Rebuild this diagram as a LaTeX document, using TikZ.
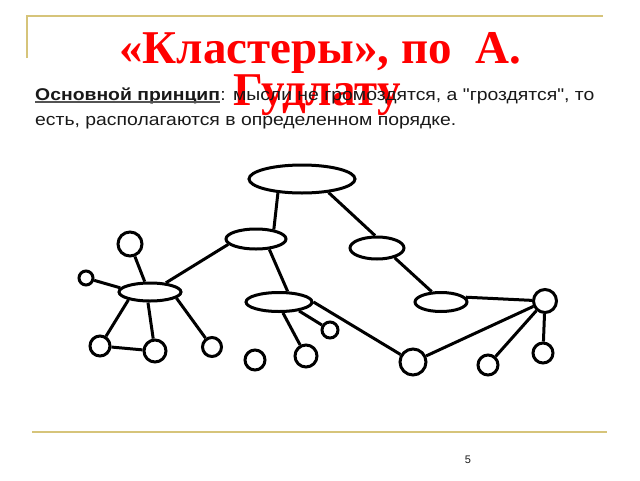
\documentclass[tikz,border=0pt]{standalone}
\usepackage{fontspec}
\setmainfont{Liberation Serif}
\newfontfamily\arialf[FakeStretch=1.14]{Liberation Sans}
\newfontfamily\arialn{Liberation Sans}
\usetikzlibrary{shapes.geometric}
\definecolor{gold}{RGB}{214,196,122}
\definecolor{titlered}{RGB}{255,0,0}
\definecolor{bodyc}{RGB}{25,25,25}
\begin{document}
\begin{tikzpicture}[x=1pt,y=-1pt,
  oval/.style={draw,ellipse,inner sep=0pt,line width=3pt},
  dot/.style={draw,circle,inner sep=0pt,line width=3pt},
  link/.style={line width=3pt},
  rulel/.style={gold,line width=2pt},
  titletxt/.style={anchor=base,inner sep=0pt,text=titlered,font=\bfseries\fontsize{47}{52}\selectfont},
  bodytxt/.style={anchor=base west,inner sep=0pt,text=bodyc,font=\arialf\fontsize{17}{20}\selectfont}]
\useasboundingbox (0,0) rectangle (640,480);
% frame rules
\coordinate (tl) at (27,58);
\coordinate (tc) at (27,16);
\coordinate (tr) at (603,16);
\draw[rulel] (tl) -- (tc) -- (tr);
\coordinate (bl) at (32,432);
\coordinate (br) at (607,432);
\draw[rulel] (bl) -- (br);
% title
\node[titletxt] (t1) at (320,63) {«Кластеры», по\ \ А.};
\node[titletxt] (t2) at (317,105) {Гудлату};
% body text
\node[bodytxt] (p1) at (35,100) {\bfseries Основной принцип};
\node[bodytxt] (p2) at (p1.base east) {: мысли не громоздятся, а "гроздятся", то};
\node[bodytxt] (p3) at (35,125) {есть, располагаются в определенном порядке.};
\draw[bodyc!75,line width=1.2pt] ([yshift=-2pt]p1.base west) -- ([yshift=-2pt]p1.base east);
% page number
\node[inner sep=0pt,text=bodyc,font=\arialn\fontsize{11}{13}\selectfont] (pg) at (468,460) {5};
% ovals
\node[oval,minimum width=106pt,minimum height=28pt] (e1) at (302,179) {};
\node[oval,minimum width=60pt,minimum height=20pt] (e2) at (256,239) {};
\node[oval,minimum width=62pt,minimum height=18pt] (e3) at (150,292) {};
\node[oval,minimum width=66pt,minimum height=19pt] (e4) at (279,302) {};
\node[oval,minimum width=54pt,minimum height=22pt] (e5) at (377,248) {};
\node[oval,minimum width=52pt,minimum height=19pt] (e6) at (441,302) {};
% circles
\node[dot,minimum size=24pt] (c1) at (130,244) {};
\node[dot,minimum size=14pt] (c2) at (86,278) {};
\node[dot,minimum size=20pt] (c3) at (100,346) {};
\node[dot,minimum size=22pt] (c4) at (155,351) {};
\node[dot,minimum size=19pt] (c5) at (212,347) {};
\node[dot,minimum size=20pt] (c6) at (255,360) {};
\node[dot,minimum size=22pt] (c7) at (306,356) {};
\node[dot,minimum size=16pt] (c8) at (330,330) {};
\node[dot,minimum size=26pt] (c9) at (413,362) {};
\node[dot,minimum size=23pt] (c10) at (545,301) {};
\node[dot,minimum size=20pt] (c11) at (488,365) {};
\node[dot,minimum size=20pt] (c12) at (543,353) {};
% links
\draw[link] (e1.210) -- (e2.28);
\draw[link] (e1.333) -- (e5.99);
\draw[link] (e2.191) -- (e3.30);
\draw[link] (e2.322) -- (e4.51);
\draw[link] (e5.331) -- (e6.132);
\draw[link] (e6.11) -- (c10);
\draw[link] (e3.117) -- (c1);
\draw[link] (e3.172) -- (c2);
\draw[link] (e3.200) -- (c3);
\draw[link] (e3.259) -- (c4);
\draw[link] (e3.347) -- (c5);
\draw[link] (c3) -- (c4);
\draw[link] (e4.290) -- (c7);
\draw[link] (e4.336) -- (c8);
\draw[link] (e4.0) -- (c9);
\draw[link] (c9) -- (c10);
\draw[link] (c10) -- (c11);
\draw[link] (c10) -- (c12);
\end{tikzpicture}
\end{document}
